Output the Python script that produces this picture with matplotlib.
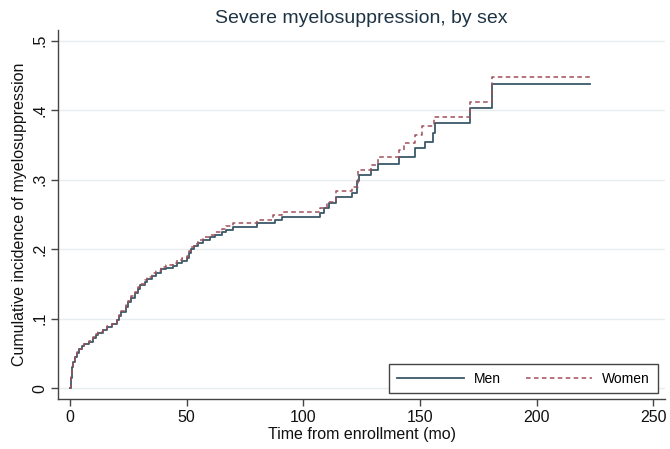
import matplotlib
matplotlib.use("Agg")
import matplotlib.pyplot as plt
from matplotlib.ticker import FuncFormatter

plt.rcParams['font.family'] = ['Liberation Sans', 'DejaVu Sans']

# Cumulative incidence step functions (months, proportion)
men_t = [0, 0.5, 1, 1.5, 2, 3, 4, 5, 6, 8, 10, 11, 12, 14, 16, 18, 20, 21, 22, 24,
         25, 26, 28, 29, 30, 32, 33, 35, 37, 39, 41, 44, 46, 48, 50, 51, 52, 53, 55,
         57, 60, 62, 65, 67, 70, 80, 88, 91, 107, 109, 111, 114, 121, 123, 124, 129,
         132, 141, 148, 152, 155.6, 156.4, 171.4, 180.7, 222.9]
men_ci = [0, 0.015, 0.030, 0.038, 0.045, 0.051, 0.056, 0.060, 0.063, 0.067, 0.072,
          0.077, 0.080, 0.084, 0.088, 0.092, 0.098, 0.104, 0.110, 0.117, 0.124, 0.130,
          0.137, 0.143, 0.148, 0.153, 0.157, 0.162, 0.166, 0.171, 0.173, 0.176, 0.180,
          0.183, 0.187, 0.195, 0.200, 0.205, 0.209, 0.213, 0.217, 0.221, 0.225, 0.228,
          0.232, 0.237, 0.242, 0.246, 0.252, 0.259, 0.266, 0.275, 0.280, 0.298, 0.306,
          0.314, 0.323, 0.333, 0.345, 0.354, 0.367, 0.381, 0.403, 0.437, 0.437]

women_t = [0, 0.5, 1, 1.5, 2, 3, 4, 5, 6, 8, 10, 11, 12, 14, 16, 18, 20, 21, 22, 24,
           25, 26, 28, 29, 30, 32, 33, 35, 37, 39, 41, 44, 46, 48, 50, 51, 52, 53, 55,
           57, 60, 62, 65, 67, 70, 80, 87, 91, 107, 110, 114, 121, 123.6, 129, 132,
           141, 143, 148, 151, 156, 171.4, 180.7, 222.9]
women_ci = [0, 0.016, 0.031, 0.039, 0.046, 0.052, 0.057, 0.061, 0.064, 0.068, 0.073,
            0.078, 0.081, 0.085, 0.089, 0.093, 0.099, 0.105, 0.111, 0.119, 0.126, 0.132,
            0.139, 0.145, 0.150, 0.156, 0.160, 0.165, 0.169, 0.174, 0.177, 0.180, 0.184,
            0.187, 0.190, 0.198, 0.203, 0.208, 0.213, 0.217, 0.221, 0.225, 0.229, 0.233,
            0.237, 0.242, 0.249, 0.253, 0.259, 0.268, 0.283, 0.289, 0.314, 0.321, 0.332,
            0.342, 0.352, 0.364, 0.377, 0.390, 0.412, 0.448, 0.448]

x_ticks = [0, 50, 100, 150, 200, 250]
y_ticks = [0, 0.1, 0.2, 0.3, 0.4, 0.5]

fig = plt.figure(figsize=(6.7, 4.49), dpi=100)
ax = fig.add_axes([0.0866, 0.111, 0.906, 0.822])

ax.plot(men_t, men_ci, drawstyle='steps-post', color='#3a5868', lw=1.3, label='Men')
ax.plot(women_t, women_ci, drawstyle='steps-post', color='#a0505a', lw=1.1,
        ls=(0, (3, 2.2)), label='Women')

ax.set_xlim(-5.1, 255)
ax.set_ylim(-0.0158, 0.515)
ax.set_xticks(x_ticks)
ax.set_yticks(y_ticks)
ax.yaxis.set_major_formatter(FuncFormatter(lambda v, p: '0' if v == 0 else ('%.1f' % v).lstrip('0')))

ax.grid(axis='y', color='#e6ecef', lw=1)
ax.set_axisbelow(True)
for s in ['top', 'right']:
    ax.spines[s].set_visible(False)
for s in ['left', 'bottom']:
    ax.spines[s].set_color('#444444')
    ax.spines[s].set_linewidth(1.0)

ax.tick_params(direction='out', length=5, width=1, color='#444444', labelsize=11.5,
               labelcolor='#111111', pad=3)
for lab in ax.get_yticklabels():
    lab.set_rotation(90)
    lab.set_va('center')
    lab.set_ha('center')
ax.tick_params(axis='y', pad=8)

ax.set_xlabel('Time from enrollment (mo)', fontsize=11.5, labelpad=1, color='#111111')
ax.set_ylabel('Cumulative incidence of myelosuppression', fontsize=11.5, labelpad=4,
              color='#111111')
ax.set_title('Severe myelosuppression, by sex', fontsize=14, color='#1e3445', pad=5)

leg = ax.legend(loc='lower right', bbox_to_anchor=(0.988, 0.016), ncol=2, fontsize=10,
                handlelength=4.8, columnspacing=1.8, borderaxespad=0, fancybox=False,
                edgecolor='#444444', framealpha=1, borderpad=0.55, handletextpad=0.72)
leg.get_frame().set_linewidth(1.0)

fig.savefig('out.png', dpi=100)
